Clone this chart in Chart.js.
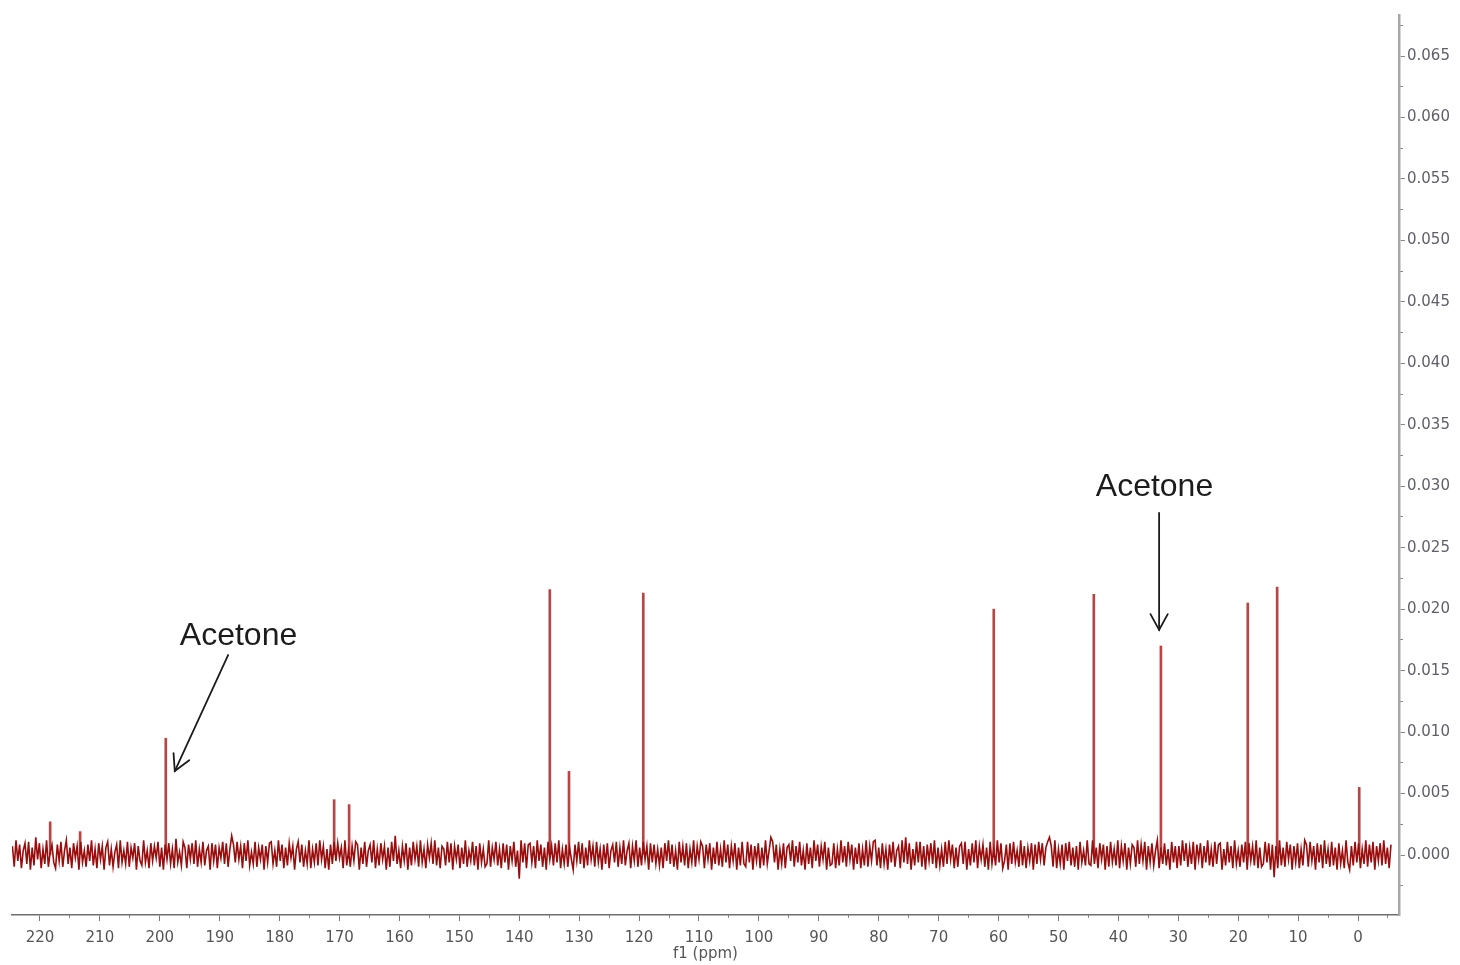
<!DOCTYPE html>
<html>
<head>
<meta charset="utf-8">
<script src="https://cdn.jsdelivr.net/npm/chart.js@4.4.1/dist/chart.umd.min.js"></script>
<style>
  html, body { margin: 0; padding: 0; background: #fff; }
  canvas { display: block; }
</style>
</head>
<body>
<canvas id="spectrum" width="1460" height="965"></canvas>
<script>
// baseline samples, every 0.3 ppm going upfield from 224.6 ppm, in units of 1.2e-4
const ppmStart = 224.6;
const ppmStep = 0.3;
const noiseUnit = 1.2e-4;
const noise = [
  6,-8,10,-4,7,-9,3,8,-6,9,-10,5,-7,12,-3,8,-9,4,-6,10,-8,2,7,-5,
  -9,7,-4,9,-8,3,10,-6,5,-9,8,-2,6,-10,9,-5,3,-8,7,-4,10,-7,4,-9,
  8,-3,6,-10,5,9,-7,4,-8,2,7,-9,10,-5,3,-6,9,-8,5,-2,8,-10,6,-4,
  -7,10,-5,3,-9,8,-4,6,-2,9,-8,5,-10,7,-3,8,-6,4,-9,11,-5,2,-7,9,
  5,-9,7,-3,8,-6,10,-8,4,-5,9,-7,3,6,-10,8,-4,7,-9,5,-2,9,-6,8,
  -8,4,13,7,-5,9,-3,6,-9,8,-4,10,-7,2,-6,9,-8,5,-3,7,-10,6,-5,8,
  9,-6,3,-8,10,-4,7,-9,5,-7,8,-2,6,-10,4,9,-5,7,-8,3,-6,10,-9,4,
  -5,8,-7,10,-3,6,-9,4,-10,7,-6,9,-4,8,-2,5,-9,10,-7,3,-8,6,-4,9,
  7,-10,5,-6,9,-8,3,7,-5,10,-9,4,-7,8,-3,6,-10,5,-8,9,-4,13,-6,3,
  -9,6,-4,8,-10,5,-7,9,-3,6,-8,10,-5,4,-9,7,-2,8,-6,10,-7,5,-9,6,
  4,-7,9,-5,8,-10,6,-3,7,-9,5,-6,10,-8,3,-4,9,-7,6,-10,8,-5,4,-8,
  -6,10,-8,5,-3,9,-7,4,-9,8,-5,7,-10,6,-4,9,-8,3,-16,10,-5,8,-9,7,
  8,-5,6,-9,10,-4,7,-8,5,-10,9,-3,6,-7,8,-5,10,-9,4,-6,7,-8,5,-3,
  -10,7,-4,9,-6,8,-9,5,-7,10,-3,6,-8,9,-5,4,-10,7,-6,8,-9,3,7,-5,
  9,-8,5,-6,10,-7,3,8,-9,6,-4,10,-8,5,-7,9,-3,6,-10,8,-5,7,-6,4,
  -7,5,-9,8,-4,10,-6,7,-8,3,-10,9,-5,6,-7,8,-9,4,-5,10,-8,6,-3,9,
  6,-9,7,-3,8,-10,5,-6,9,-7,4,-8,10,-5,7,-9,6,-4,8,-10,5,-7,9,-6,
  -8,9,-5,7,-10,6,-4,8,-9,5,-7,10,-6,3,12,9,-5,7,-10,4,-6,8,-9,5,
  7,-4,10,-8,6,-5,9,-7,3,-10,8,-6,5,-9,10,-4,7,-8,6,-3,9,-10,5,-7,
  -6,8,-9,4,-7,10,-5,6,-8,9,-3,7,-10,5,-6,8,-9,4,-7,10,-8,6,-4,9,
  10,-7,5,-9,8,-6,4,-10,7,-5,9,-8,3,6,-9,10,-5,12,-6,8,-10,4,-7,9,
  -5,9,-8,6,-10,7,-4,8,-6,10,-9,5,-7,4,-8,9,-6,10,-3,7,-9,5,-8,6,
  8,-6,9,-10,4,-7,8,-5,10,-9,6,-3,7,-8,5,-10,9,-6,4,-7,10,-5,8,-9,
  -4,7,-10,8,-6,9,-5,3,-8,10,-7,6,-9,5,-4,8,-10,7,-6,9,-3,8,-7,5,
  9,12,6,-8,10,-9,4,-6,7,-10,8,-4,9,-7,5,-8,6,-10,9,-5,3,-7,10,-6,
  -7,10,-6,5,-9,8,-3,7,-10,6,-8,9,-5,4,-7,10,-9,6,-4,8,-10,5,-6,7,
  5,-8,10,-6,7,-4,9,-10,6,-5,8,-7,3,10,-9,5,-6,8,-7,4,-10,9,-5,6,
  -9,6,-7,10,-4,8,-8,5,-6,9,-10,7,-3,8,-9,6,-5,10,-7,4,-8,9,-6,7,
  8,-10,4,-7,9,-5,6,-9,10,-6,3,-8,7,-5,9,-10,8,-4,6,-7,10,-9,5,-8,
  -6,9,-5,8,-10,7,-15,6,-9,10,-7,5,-8,9,-3,7,-10,6,-5,8,-9,4,-7,10,
  7,-8,9,-4,6,-10,8,-5,7,-9,10,-6,4,-8,9,-7,5,-10,8,-6,3,-9,10,-5,
  -10,6,-7,9,-5,8,-9,4,-6,10,-8,7,-5,9,-10,6,-4,8,-7,10,-6,5,-9,7
];

// resonances
const peakPpm    = [218.3, 213.3, 199.0, 170.9, 168.4, 134.9, 131.7, 119.3, 60.8, 44.1, 32.9, 18.4, 13.5, -0.2];
const peakHeight = [0.0027, 0.0019, 0.0095, 0.0045, 0.0041, 0.0216, 0.0068, 0.0213, 0.0200, 0.0212, 0.0170, 0.0205, 0.0218, 0.0055];

const xTicks = [220, 210, 200, 190, 180, 170, 160, 150, 140, 130, 120, 110, 100, 90, 80, 70, 60, 50, 40, 30, 20, 10, 0];
const yTicks = [0, 0.005, 0.010, 0.015, 0.020, 0.025, 0.030, 0.035, 0.040, 0.045, 0.050, 0.055, 0.060, 0.065];

// solvent labels: text anchor, arrow tail, arrow head (ppm, intensity)
const noteText  = ['Acetone', 'Acetone'];
const noteAt    = [[186.86, 0.01708], [33.97, 0.02921]];
const arrowTail = [[188.6, 0.01627], [33.2, 0.02783]];
const arrowHead = [[197.5, 0.00683], [33.2, 0.01831]];

const xMin = -6.84, xMax = 224.67;
const yMin = -0.004881, yMax = 0.068336;

const baseline = noise.map((v, i) => ({x: ppmStart - i * ppmStep, y: v * noiseUnit}));
const peaks = peakPpm.map((p, i) => ({x: p, y: peakHeight[i]}));

const xMinor = [215, 205, 195, 185, 175, 165, 155, 145, 135, 125, 115, 105, 95, 85, 75, 65, 55, 45, 35, 25, 15, 5, -5];
const yMinor = [-0.0025].concat(yTicks.map(t => t + 0.0025));

const axisFont = {family: '"DejaVu Sans", Verdana, sans-serif', size: 15};

const acetoneNotes = {
  id: 'acetoneNotes',
  afterDatasetsDraw(chart) {
    const {ctx, scales: {x, y}} = chart;
    ctx.save();
    ctx.fillStyle = '#1c1c1c';
    ctx.strokeStyle = '#1c1c1c';
    ctx.font = '32px "Liberation Sans", Arial, sans-serif';
    ctx.textAlign = 'center';
    ctx.textBaseline = 'alphabetic';
    ctx.lineWidth = 1.8;
    ctx.lineCap = 'round';
    noteText.forEach((t, i) => {
      ctx.fillText(t, x.getPixelForValue(noteAt[i][0]), y.getPixelForValue(noteAt[i][1]));
      const x0 = x.getPixelForValue(arrowTail[i][0]), y0 = y.getPixelForValue(arrowTail[i][1]);
      const x1 = x.getPixelForValue(arrowHead[i][0]), y1 = y.getPixelForValue(arrowHead[i][1]);
      ctx.beginPath();
      ctx.moveTo(x0, y0);
      ctx.lineTo(x1, y1);
      ctx.stroke();
      const a = Math.atan2(y1 - y0, x1 - x0);
      const len = 18, spread = 0.5;
      ctx.beginPath();
      ctx.moveTo(x1 - len * Math.cos(a - spread), y1 - len * Math.sin(a - spread));
      ctx.lineTo(x1, y1);
      ctx.lineTo(x1 - len * Math.cos(a + spread), y1 - len * Math.sin(a + spread));
      ctx.stroke();
    });
    ctx.restore();
  }
};

new Chart(document.getElementById('spectrum'), {
  type: 'line',
  data: {
    datasets: [
      {
        type: 'bar',
        data: peaks,
        backgroundColor: '#b84444',
        barThickness: 2,
        xAxisID: 'x',
        yAxisID: 'y',
        order: 2
      },
      {
        data: baseline,
        borderColor: '#9a0d0d',
        borderWidth: 1.6,
        pointRadius: 0,
        tension: 0,
        xAxisID: 'x',
        yAxisID: 'y',
        order: 1
      }
    ]
  },
  options: {
    responsive: false,
    animation: false,
    devicePixelRatio: 1,
    layout: {padding: {left: 12, top: 15, right: 0, bottom: 0}},
    plugins: {legend: {display: false}, tooltip: {enabled: false}},
    scales: {
      x: {
        type: 'linear',
        position: 'bottom',
        reverse: true,
        min: xMin,
        max: xMax,
        offset: false,
        afterBuildTicks: s => { s.ticks = xTicks.map(v => ({value: v})); },
        afterFit: s => { s.height = 50; },
        border: {display: true, color: '#6e6e6e', width: 1.5},
        grid: {display: true, drawOnChartArea: false, drawTicks: true, tickLength: 6, tickColor: '#7a7a7a', offset: false},
        ticks: {autoSkip: false, maxRotation: 0, padding: 8, color: '#555', font: axisFont, callback: v => String(v)},
        title: {display: true, text: 'f1 (ppm)', color: '#555', font: axisFont, padding: {top: 0, bottom: 2}}
      },
      xMinorTicks: {
        type: 'linear',
        axis: 'x',
        reverse: true,
        min: xMin,
        max: xMax,
        offset: false,
        position: {y: yMin},
        afterBuildTicks: s => { s.ticks = xMinor.map(v => ({value: v})); },
        border: {display: false},
        grid: {display: true, drawOnChartArea: false, drawTicks: true, tickLength: 3, tickColor: '#8a8a8a', offset: false},
        ticks: {display: false}
      },
      y: {
        type: 'linear',
        position: 'right',
        min: yMin,
        max: yMax,
        afterBuildTicks: s => { s.ticks = yTicks.map(v => ({value: v})); },
        afterFit: s => { s.width = 61; },
        border: {display: true, color: '#a8a8a8', width: 2.5},
        grid: {display: true, drawOnChartArea: false, drawTicks: true, tickLength: 6, tickColor: '#8a8a8a'},
        ticks: {padding: 2, color: '#5f5f6a', font: axisFont, callback: v => v.toFixed(3)}
      },
      yMinorTicks: {
        type: 'linear',
        axis: 'y',
        min: yMin,
        max: yMax,
        position: {x: -7.51},
        afterBuildTicks: s => { s.ticks = yMinor.map(v => ({value: v})); },
        border: {display: false},
        grid: {display: true, drawOnChartArea: false, drawTicks: true, tickLength: 3, tickColor: '#8a8a8a'},
        ticks: {display: false}
      }
    }
  },
  plugins: [acetoneNotes]
});
</script>
</body>
</html>
